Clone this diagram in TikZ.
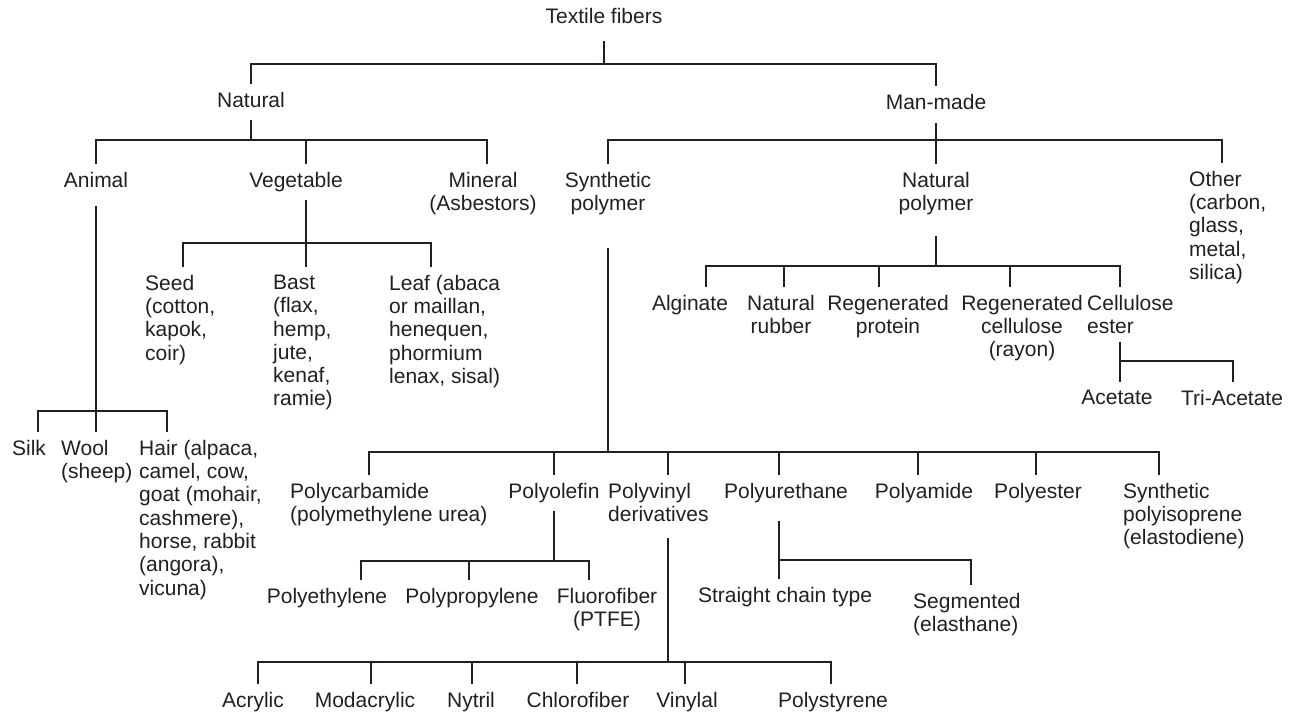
\documentclass[tikz,border=0pt]{standalone}
\usepackage{fontspec}
\setmainfont{Liberation Sans}
\usepackage{tikz}
\definecolor{inkblack}{RGB}{35,31,32}
\newcommand{\chartfont}{\fontsize{21}{23.3}\selectfont}

\begin{document}
\begin{tikzpicture}[
    x=1pt,
    y=-1pt,
    item/.style={
        font=\chartfont,
        text=inkblack,
        inner sep=0pt,
        outer ysep=8pt,
        anchor=north,
        align=center
    },
    itemL/.style={item, anchor=north west, align=left},
    link/.style={draw=inkblack, line width=1.3pt}
]

\useasboundingbox (0,0) rectangle (1293,712);

\node[item] (textile) at (604,0) {Textile fibers};

\node[item] (natural) at (251,84) {Natural};
\node[item] (manmade) at (936,86) {Man-made};

\node[item] (animal) at (96,164) {Animal};
\node[item] (vegetable) at (296,164) {Vegetable};
\node[item] (mineral) at (483,164) {Mineral\\(Asbestors)};
\node[item] (synthetic) at (608,164) {Synthetic\\polymer};
\node[item] (natpolymer) at (936,164) {Natural\\polymer};
\node[itemL] (other) at (1189,163) {Other\\(carbon,\\glass,\\metal,\\silica)};

\node[itemL] (seed) at (145,267) {Seed\\(cotton,\\kapok,\\coir)};
\node[itemL] (bast) at (273,267) {Bast\\(flax,\\hemp,\\jute,\\kenaf,\\ramie)};
\node[itemL] (leaf) at (389,267) {Leaf (abaca\\or maillan,\\henequen,\\phormium\\lenax, sisal)};

\node[item] (silk) at (29,432) {Silk};
\node[itemL] (wool) at (61,432) {Wool\\(sheep)};
\node[itemL] (hair) at (139,432) {Hair (alpaca,\\camel, cow,\\goat (mohair,\\cashmere),\\horse, rabbit\\(angora),\\vicuna)};

\node[item] (alginate) at (690,287) {Alginate};
\node[item] (rubber) at (781,287) {Natural\\rubber};
\node[item] (protein) at (888,287) {Regenerated\\protein};
\node[item] (rayon) at (1022,287) {Regenerated\\cellulose\\(rayon)};
\node[itemL] (ester) at (1087,287) {Cellulose\\ester};

\node[item] (acetate) at (1117,382) {Acetate};
\node[item] (triacetate) at (1232,382) {Tri-Acetate};

\node[itemL] (polycarb) at (290,475) {Polycarbamide\\(polymethylene urea)};
\node[item] (polyolefin) at (554,475) {Polyolefin};
\node[itemL] (polyvinyl) at (608,475) {Polyvinyl\\derivatives};
\node[item] (polyurethane) at (786,475) {Polyurethane};
\node[item] (polyamide) at (924,475) {Polyamide};
\node[item] (polyester) at (1038,475) {Polyester};
\node[itemL] (polyisoprene) at (1123,475) {Synthetic\\polyisoprene\\(elastodiene)};

\node[item] (polyethylene) at (327,580) {Polyethylene};
\node[item] (polypropylene) at (472,580) {Polypropylene};
\node[item] (fluorofiber) at (607,580) {Fluorofiber\\(PTFE)};

\node[item] (straight) at (785,579) {Straight chain type};
\node[itemL] (segmented) at (913,585) {Segmented\\(elasthane)};

\node[item] (acrylic) at (253,684) {Acrylic};
\node[item] (modacrylic) at (365,684) {Modacrylic};
\node[item] (nytril) at (471,684) {Nytril};
\node[item] (chlorofiber) at (578,684) {Chlorofiber};
\node[item] (vinylal) at (687,684) {Vinylal};
\node[item] (polystyrene) at (833,684) {Polystyrene};

\coordinate (topj) at (604,64);
\coordinate (natj) at (251,140);
\coordinate (manj) at (936,140);
\coordinate (vegj) at (306,243);
\coordinate (anij) at (96,411);
\coordinate (npj) at (936,266);
\coordinate (cej) at (1120,361);
\coordinate (synj) at (608,452);
\coordinate (olej) at (554,561);
\coordinate (urej) at (779,560);
\coordinate (vinj) at (668,662);

\draw[link] ([yshift=-10pt]textile.south) -- (topj);
\draw[link] (topj) -| (natural.north) (topj) -| (manmade.north);

\draw[link] ([yshift=-5pt]natural.south) -- (natj);
\draw[link] (natj) -| (animal.north) (natj) -| ([xshift=10pt]vegetable.north) (natj) -| ([xshift=4pt]mineral.north);

\draw[link] ([yshift=-6pt]manmade.south) -- (natpolymer.north);
\draw[link] (manj) -| (synthetic.north) (manj) -| ([xshift=33pt]other.north west);

\draw[link] ([xshift=10pt]vegetable.south) -- ([xshift=33pt]bast.north west);
\draw[link] (vegj) -| ([xshift=38pt]seed.north west) (vegj) -| ([xshift=42pt]leaf.north west);

\draw[link] ([yshift=-11pt]animal.south) -- (anij);
\draw[link] (anij) -| ([xshift=9pt]silk.north) (anij) -| ([xshift=35pt]wool.north west) (anij) -| ([xshift=28pt]hair.north west);

\draw[link] ([yshift=-13pt]natpolymer.south) -- (npj);
\draw[link] (npj) -| ([xshift=16pt]alginate.north) (npj) -| ([xshift=3pt]rubber.north) (npj) -| ([xshift=-9pt]protein.north) (npj) -| ([xshift=-12pt]rayon.north) (npj) -| ([xshift=33pt]ester.north west);

\draw[link] ([xshift=33pt]ester.south west) -- (cej);
\draw[link] (cej) -| ([xshift=3pt]acetate.north) (cej) -| ([xshift=1pt]triacetate.north);

\draw[link] ([yshift=-25pt]synthetic.south) -- (synj);
\draw[link] (synj) -| ([xshift=79pt]polycarb.north west) (synj) -| (polyolefin.north) (synj) -| ([xshift=60pt]polyvinyl.north west) (synj) -| ([xshift=-7pt]polyurethane.north) (synj) -| ([xshift=-6pt]polyamide.north) (synj) -| ([xshift=-2pt]polyester.north) (synj) -| ([xshift=36pt]polyisoprene.north west);

\draw[link] (polyolefin.south) -- (olej);
\draw[link] (olej) -| ([xshift=34pt]polyethylene.north) (olej) -| ([xshift=-3pt]polypropylene.north) (olej) -| ([xshift=-18pt]fluorofiber.north);

\draw[link] ([xshift=-7pt,yshift=-10pt]polyurethane.south) -- (urej);
\draw[link] (urej) -| ([xshift=-6pt]straight.north) (urej) -| ([xshift=58pt]segmented.north west);

\draw[link] ([xshift=60pt,yshift=-8pt]polyvinyl.south west) -- (vinj);
\draw[link] (vinj) -| ([xshift=5pt]acrylic.north) (vinj) -| ([xshift=6pt]modacrylic.north) (vinj) -| ([xshift=1pt]nytril.north) (vinj) -| ([xshift=-1pt]chlorofiber.north) (vinj) -| ([xshift=-2pt]vinylal.north) (vinj) -| ([xshift=-2pt]polystyrene.north);

\end{tikzpicture}
\end{document}
